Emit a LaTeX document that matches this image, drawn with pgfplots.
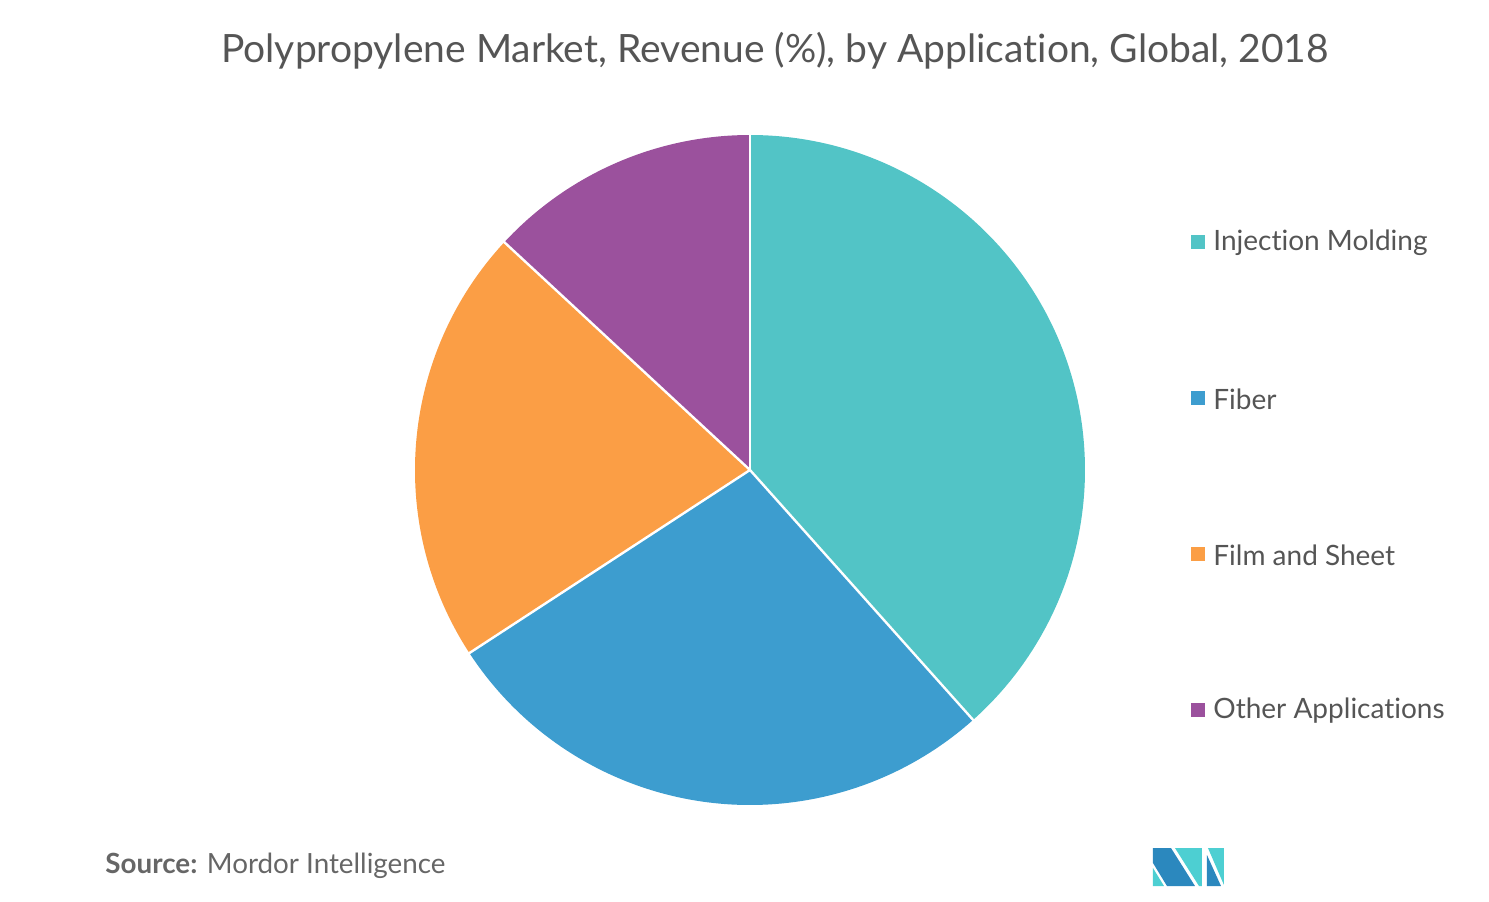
\documentclass[border=0pt]{standalone}
\usepackage{fontspec}
\setmainfont{Lato}[Ligatures=NoCommon]
\usepackage{pgfplots}
\usepackage{pgfplotstable}
\pgfplotsset{compat=1.18}

\definecolor{cInj}{HTML}{52C4C6}
\definecolor{cFib}{HTML}{3D9DCF}
\definecolor{cFilm}{HTML}{FB9E45}
\definecolor{cOth}{HTML}{9B519D}
\definecolor{txt}{HTML}{555555}
\definecolor{srcgray}{HTML}{666666}
\definecolor{logoblue}{HTML}{2B88BE}
\definecolor{logoteal}{HTML}{4DCFD2}

% share of revenue, %
\pgfplotstableread{
label value
Injection 38.4
Fiber 27.4
Film 21.1
Other 13.1
}\piedata

\begin{document}
\begin{tikzpicture}
% slice end angles, clockwise from 12 o'clock
\pgfplotstablegetelem{0}{value}\of\piedata \let\vA\pgfplotsretval
\pgfplotstablegetelem{1}{value}\of\piedata \let\vB\pgfplotsretval
\pgfplotstablegetelem{2}{value}\of\piedata \let\vC\pgfplotsretval
\pgfplotstablegetelem{3}{value}\of\piedata \let\vD\pgfplotsretval
\pgfmathsetmacro\eA{90-3.6*\vA}
\pgfmathsetmacro\eB{\eA-3.6*\vB}
\pgfmathsetmacro\eC{\eB-3.6*\vC}
\pgfmathsetmacro\eD{\eC-3.6*\vD}
\def\R{167.5bp}
\def\Rb{168.5bp}
\tikzset{legtxt/.style={txt, anchor=west, inner sep=0pt, font=\fontsize{14bp}{16bp}\selectfont}}
\begin{axis}[
    x=0.5bp, y=0.5bp,
    xmin=0, xmax=1489, ymin=0, ymax=902,
    hide axis, clip=false,
]
\fill[cInj]  (axis cs:750,432) -- ++(90:\R)  arc[start angle=90,  end angle=\eA, radius=\R] -- cycle;
\fill[cFib]  (axis cs:750,432) -- ++(\eA:\R) arc[start angle=\eA, end angle=\eB, radius=\R] -- cycle;
\fill[cFilm] (axis cs:750,432) -- ++(\eB:\R) arc[start angle=\eB, end angle=\eC, radius=\R] -- cycle;
\fill[cOth]  (axis cs:750,432) -- ++(\eC:\R) arc[start angle=\eC, end angle=\eD, radius=\R] -- cycle;
\draw[white, line width=1.2bp] (axis cs:750,432) -- ++(\eA:\Rb);
\draw[white, line width=1.2bp] (axis cs:750,432) -- ++(\eB:\Rb);
\draw[white, line width=1.2bp] (axis cs:750,432) -- ++(\eC:\Rb);
\draw[white, line width=1.2bp] (axis cs:750,432) -- ++(\eD:\Rb);

% title
\node[txt, font=\fontsize{19.5bp}{22bp}\selectfont] at (axis cs:775,851)
  {Polypropylene Market, Revenue (\%), by Application, Global, 2018};

% legend
\fill[cInj]  (axis cs:1191,653) rectangle (axis cs:1205,667);
\fill[cFib]  (axis cs:1191,497) rectangle (axis cs:1205,511);
\fill[cFilm] (axis cs:1191,341) rectangle (axis cs:1205,355);
\fill[cOth]  (axis cs:1191,185) rectangle (axis cs:1205,199);
\node[legtxt] at (axis cs:1213,659) {Injection Molding};
\node[legtxt] at (axis cs:1213,503) {Fiber};
\node[legtxt] at (axis cs:1213,347) {Film and Sheet};
\node[legtxt] at (axis cs:1213,191) {Other Applications};

% source
\node[srcgray, anchor=west, inner sep=0pt, font=\fontsize{13.9bp}{16bp}\selectfont] at (axis cs:105,36)
  {\textbf{Source:} Mordor Intelligence};

% logo
\fill[logoblue] (axis cs:1153,54) -- (axis cs:1171,54) -- (axis cs:1195,16) -- (axis cs:1167,16) -- (axis cs:1153,39) -- cycle;
\fill[logoteal] (axis cs:1153,34) -- (axis cs:1153,16) -- (axis cs:1164,16) -- cycle;
\fill[logoteal] (axis cs:1175,54) -- (axis cs:1202,54) -- (axis cs:1202,16) -- (axis cs:1199,16) -- cycle;
\fill[logoteal] (axis cs:1208,54) -- (axis cs:1224,54) -- (axis cs:1224,17) -- cycle;
\fill[logoblue] (axis cs:1207,47) -- (axis cs:1207,16) -- (axis cs:1221,16) -- cycle;
\end{axis}
\pgfresetboundingbox
\path (0,0) rectangle (744.5bp,451bp);
\end{tikzpicture}
\end{document}
